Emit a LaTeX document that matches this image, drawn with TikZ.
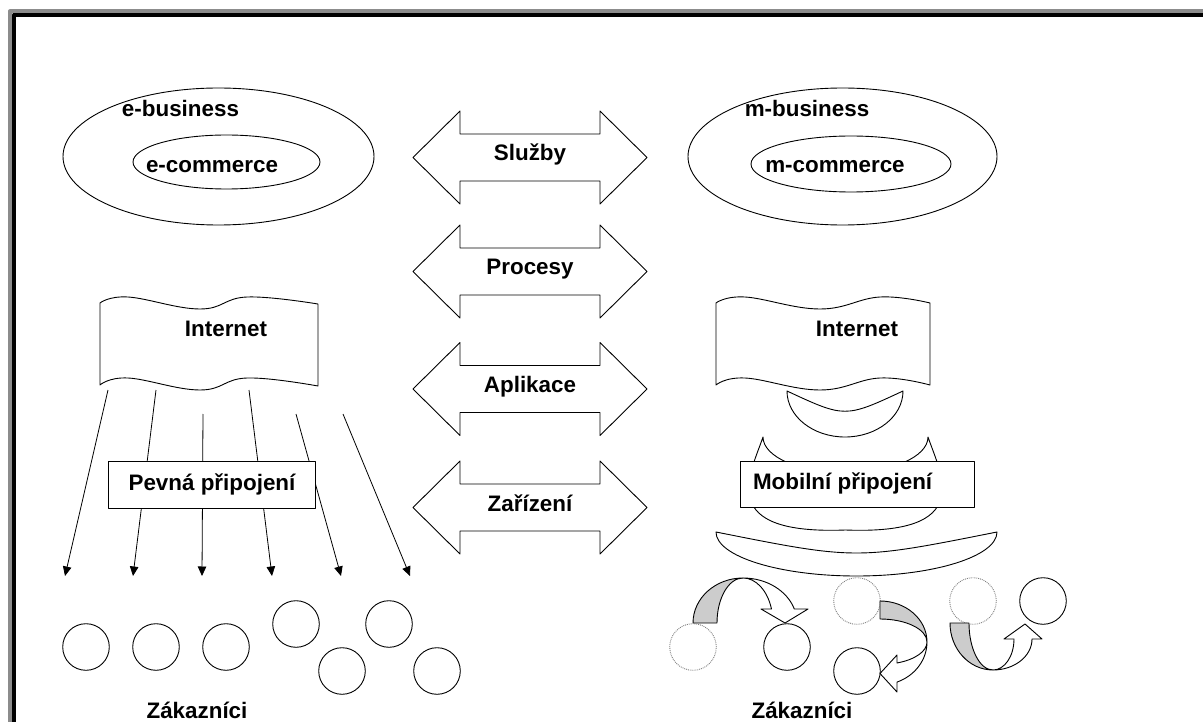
\documentclass[tikz,border=0pt]{standalone}
\usepackage{fontspec}
\setmainfont{Liberation Sans}
\usetikzlibrary{arrows.meta,shapes.geometric}
\definecolor{framegray}{RGB}{140,140,140}
\definecolor{ribbongray}{RGB}{204,204,204}
\begin{document}
\begin{tikzpicture}[x=1pt, y=-1pt, line join=round,
  every node/.style={inner sep=0pt, outer sep=0pt},
  lbl/.style={font=\fontsize{22.4}{26}\selectfont\bfseries, anchor=base},
  shp/.style={draw=black, line width=0.9pt, fill=white},
  cust/.style={circle, draw=black, line width=0.9pt, minimum size=46.6pt},
  ghost/.style={circle, draw=gray, densely dotted, line width=0.9pt, minimum size=46.6pt},
  feed/.style={draw=black, line width=0.8pt, -{Triangle[length=9.5pt,width=8.5pt]}},
  back/.style={draw=black, line width=0.9pt, fill=ribbongray},
  front/.style={draw=black, line width=0.9pt, fill=white}]
\useasboundingbox (0,0) rectangle (1203,722);

% window frame
\draw[framegray, line width=3.7pt] (9.9,740) -- (9.9,11.3) -- (1220,11.3);
\draw[black, line width=4pt] (13.9,740) -- (13.9,14.7) -- (1220,14.7);

% business ellipses
\node[shp, ellipse, minimum width=311pt, minimum height=137pt] (ebiz) at (218.5,156.5) {};
\node[shp, ellipse, minimum width=187pt, minimum height=54pt] (ecom) at (226.5,162) {};
\node[lbl] (ebiztxt) at (180.5,116.7) {e-business};
\node[lbl] (ecomtxt) at (212,172.7) {e-commerce};

\node[shp, ellipse, minimum width=309pt, minimum height=137pt] (mbiz) at (842.5,156.5) {};
\node[shp, ellipse, minimum width=200pt, minimum height=56pt] (mcom) at (851,164) {};
\node[lbl] (mbiztxt) at (807,116.7) {m-business};
\node[lbl] (mcomtxt) at (835,172.7) {m-commerce};

% double arrows in the middle
\foreach \cy/\nm/\txt in {157.5/sluzby/Služby, 271.5/procesy/Procesy, 389/aplikace/Aplikace, 507.5/zarizeni/Zařízení} {
  \draw[shp] (413,\cy) -- (460,{\cy-46.5}) -- (460,{\cy-23.5}) -- (600,{\cy-23.5})
    -- (600,{\cy-46.5}) -- (647,\cy) -- (600,{\cy+46.5}) -- (600,{\cy+23.5})
    -- (460,{\cy+23.5}) -- (460,{\cy+46.5}) -- cycle;
  \node[lbl] (\nm) at (530,{\cy+3.5}) {\txt};
}

% Internet banners
\draw[shp] plot[smooth, tension=0.7] coordinates {(100,303) (128,297) (200,309) (247,297) (318,304)}
  -- plot[smooth, tension=0.7] coordinates {(318,386) (247,378) (200,390) (128,378) (100,385)} -- cycle;
\node[lbl] (inetL) at (226,336.7) {Internet};

\draw[shp] plot[smooth, tension=0.7] coordinates {(716,303) (745,297) (820,309) (880,297) (930,303)}
  -- plot[smooth, tension=0.7] coordinates {(930,385) (880,378) (820,390) (745,378) (716,385)} -- cycle;
\node[lbl] (inetR) at (857,336.7) {Internet};

% fixed connections
\coordinate (s1) at (108,390); \coordinate (e1) at (65,576);
\coordinate (s2) at (156,390); \coordinate (e2) at (133,576);
\coordinate (s3) at (203,414); \coordinate (e3) at (202,576);
\coordinate (s4) at (249,390); \coordinate (e4) at (272,576);
\coordinate (s5) at (296,414); \coordinate (e5) at (341,576);
\coordinate (s6) at (343,414); \coordinate (e6) at (410,576);
\foreach \i in {1,...,6} \draw[feed] (s\i) -- (e\i);

\node[shp, minimum width=207pt, minimum height=47pt] (fixbox) at (211.5,484.5) {};
\node[lbl] (fixtxt) at (212,490) {Pevná připojení};

% radio waves
\draw[shp] (787,391) arc[start angle=180, end angle=0, x radius=58, y radius=46]
  .. controls (845,418) and (845,418) .. (787,391) -- cycle;
\draw[shp] (763,437) .. controls (750,475) and (715,535) .. (845.5,530)
  .. controls (976,535) and (941,475) .. (928,437)
  arc[start angle=0, end angle=180, x radius=82.5, y radius=36] -- cycle;
\draw[shp] (716,532) arc[start angle=180, end angle=0, x radius=140.5, y radius=44]
  .. controls (856.5,560) and (856.5,560) .. (716,532) -- cycle;

\node[shp, minimum width=234pt, minimum height=46pt] (mobbox) at (857,484) {};
\node[lbl, anchor=base west] (mobtxt) at (753,489.5) {Mobilní připojení};

% customers, fixed side
\node[cust] (cl1) at (86,647) {};
\node[cust] (cl2) at (156,647) {};
\node[cust] (cl3) at (226,647) {};
\node[cust] (cl4) at (296,624) {};
\node[cust] (cl5) at (342,671) {};
\node[cust] (cl6) at (389,624) {};
\node[cust] (cl7) at (437,671) {};
\node[lbl] (custL) at (197,718.5) {Zákazníci};

% customers, mobile side
\node[ghost] (g1) at (693,647) {};
\node[cust] (r1) at (787,647) {};
\node[ghost] (g2) at (857,601) {};
\node[cust] (r2) at (857,671) {};
\node[ghost] (g3) at (973,601) {};
\node[cust] (r3) at (1043,601) {};
\node[lbl] (custR) at (802,718.5) {Zákazníci};

% curved moving arrows
\draw[back] (693,623) arc[start angle=180, end angle=270, x radius=50, y radius=45]
  arc[start angle=270, end angle=180, x radius=26, y radius=45] -- cycle;
\draw[front] (743,578) arc[start angle=270, end angle=341.9, x radius=54, y radius=45]
  -- (808,609) -- (785,623) -- (761,609) -- (771.5,609)
  arc[start angle=341.9, end angle=270, x radius=30, y radius=45] -- cycle;

\draw[back] (880,601) arc[start angle=270, end angle=360, x radius=47, y radius=41]
  arc[start angle=0, end angle=-90, x radius=47, y radius=23] -- cycle;
\draw[front] (927,642) arc[start angle=0, end angle=68.8, x radius=47, y radius=43]
  -- (897,692) -- (880,673.5) -- (897,655) -- (897,663)
  arc[start angle=68.8, end angle=0, x radius=47, y radius=22.5] -- cycle;

\draw[back] (950,623) arc[start angle=180, end angle=90, x radius=43, y radius=47]
  arc[start angle=90, end angle=180, x radius=24, y radius=47] -- cycle;
\draw[front] (993,670) arc[start angle=90, end angle=0, x radius=39, y radius=31]
  -- (1042,639) -- (1025,624) -- (1004,639) -- (1014,639)
  arc[start angle=0, end angle=90, x radius=21, y radius=31] -- cycle;
\end{tikzpicture}
\end{document}
